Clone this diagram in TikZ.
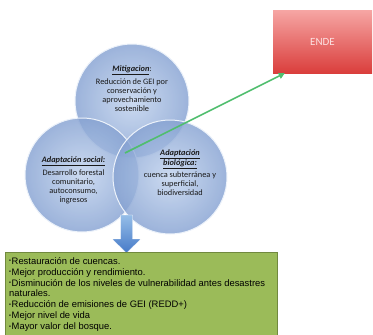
\documentclass[tikz,border=0pt]{standalone}
\usepackage{fontspec}
\setmainfont{Carlito}
\newfontfamily\arialf{Liberation Sans}
\usetikzlibrary{calc,arrows.meta}
\definecolor{circfill}{RGB}{134,162,210}
\definecolor{circin}{RGB}{192,210,237}
\definecolor{circedge}{RGB}{236,242,250}
\definecolor{arrowgreen}{RGB}{80,190,110}
\definecolor{boxgreen}{RGB}{155,187,89}
\definecolor{boxgreenedge}{RGB}{113,137,63}
\definecolor{redtop}{RGB}{246,166,164}
\definecolor{redbot}{RGB}{218,62,60}
\definecolor{endetext}{RGB}{252,226,226}
\definecolor{bluetop}{RGB}{150,190,232}
\definecolor{bluebot}{RGB}{70,122,200}
\definecolor{txt}{RGB}{25,25,25}
\tikzset{
  venn/.style={circle, minimum size=114pt, inner sep=0pt, draw=circedge, line width=1pt,
    inner color=circin, outer color=circfill, fill opacity=0.82},
  circtext/.style={align=center, font=\fontsize{8.3}{9}\selectfont, text=txt, inner sep=0pt},
  endebox/.style={rectangle, inner sep=0pt, minimum width=99pt, minimum height=63pt,
    top color=redtop, bottom color=redbot, draw=none, text=endetext,
    font=\fontsize{11}{13}\selectfont},
  resultbox/.style={rectangle, fill=boxgreen, draw=boxgreenedge, line width=0.8pt, inner sep=0pt,
    minimum width=272pt, minimum height=86pt},
  resulttext/.style={align=left, font=\arialf\fontsize{9.4}{10.95}\selectfont, text=black, inner sep=0pt},
  greenarrow/.style={draw=arrowgreen, line width=1.6pt, -{Triangle[length=6pt,width=6pt]}}
}
\newcommand{\hd}[1]{\textbf{\textit{\underline{#1}}}}
\newcommand{\bul}{\raisebox{1.3pt}{\fontsize{5.5}{6}\selectfont•}\hspace{0.6pt}}
\begin{document}
\begin{tikzpicture}[x=1pt,y=-1pt]
\useasboundingbox (0,0) rectangle (373,335);
% circles
\node[venn] (mit) at (132,101) {};
\node[venn] (soc) at (82,175) {};
\node[venn] (bio) at (170,177) {};
% circle texts
\node[circtext] (mittext) at (132,89) {\hd{Mitigacion}:\\[3pt]Reducción de GEI por\\conservación y\\aprovechamiento\\sostenible};
\node[circtext] (soctext) at (73.5,180) {\hd{Adaptación social:}\\[3pt]Desarrollo forestal\\comunitario,\\autoconsumo,\\ingresos};
\node[circtext] (biotext) at (180,172.5) {\hd{Adaptación}\\\hd{biológica:}\\[2pt]cuenca subterránea y\\superficial,\\biodiversidad};
% ENDE box
\node[endebox] (ende) at (322.5,41.5) {\raisebox{-1.5pt}{ENDE}};
% green arrow
\coordinate (gstart) at (125,153);
\coordinate (gend) at ([xshift=12pt]ende.south west);
\draw[greenarrow] (gstart) -- (gend);
% blue block arrow
\shade[top color=bluetop, bottom color=bluebot, draw=white, line width=0.4pt]
  (120.5,215) -- (132.5,215) -- (132.5,239) -- (141,239) -- (126.5,253) -- (112,239) -- (120.5,239) -- cycle;
% result box
\node[resultbox, anchor=north west] (res) at (5,251.7) {};
\node[resulttext, anchor=north west] (restext) at (9,257) {%
\bul Restauración de cuencas.\\
\bul Mejor producción y rendimiento.\\
\bul Disminución de los niveles de vulnerabilidad antes desastres\\
naturales.\\
\bul Reducción de emisiones de GEI (REDD+)\\
\bul Mejor nivel de vida\\
\bul Mayor valor del bosque.};
\end{tikzpicture}
\end{document}
